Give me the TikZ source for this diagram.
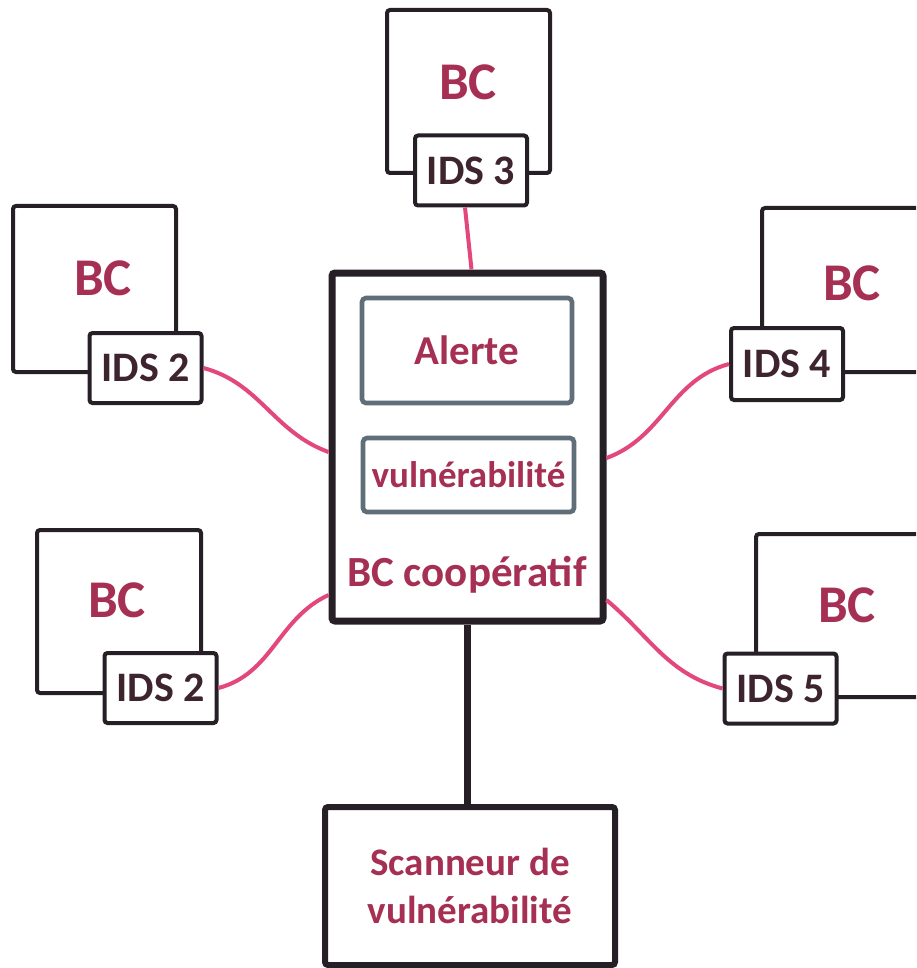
\documentclass[tikz,border=0pt]{standalone}
\usepackage{fontspec}
\setmainfont{Carlito}
\definecolor{ink}{RGB}{38,32,38}
\definecolor{bcred}{RGB}{165,48,84}
\definecolor{idsink}{RGB}{62,36,46}
\definecolor{wire}{RGB}{226,72,122}
\definecolor{slate}{RGB}{96,110,122}
\begin{document}
\begin{tikzpicture}[x=0.5pt,y=-0.5pt,
  box/.style={draw=ink, line width=2pt, rounded corners=1.5pt, fill=white, inner sep=0pt},
  bcbox/.style={box},
  idsbox/.style={box, text=idsink, font=\bfseries\fontsize{21}{25}\selectfont,
    minimum width=56pt, minimum height=35pt},
  bclabel/.style={text=bcred, font=\bfseries\fontsize{26.5}{30}\selectfont, inner sep=0pt},
  innerbox/.style={draw=slate, line width=2.3pt, rounded corners=2pt, fill=white, inner sep=0pt,
    text=bcred, font=\bfseries\fontsize{20.5}{24}\selectfont},
  link/.style={draw=wire, line width=2pt},
  trunk/.style={draw=ink, line width=3.5pt}]
\useasboundingbox (0,0) rectangle (916,968);
\clip (0,0) rectangle (916,968);

% central cooperative box and its two inner panels
\node[box, line width=3.5pt, minimum width=135.5pt, minimum height=174pt] (cen) at (467.5,447) {};
\node[innerbox, minimum width=105pt, minimum height=52.5pt] (alerte) at (467,350.5) {Alerte};
\node[innerbox, minimum width=105.5pt, minimum height=37pt,
  font=\bfseries\fontsize{18.5}{22}\selectfont] (vuln) at (468.5,475) {vulnérabilité};
\node[text=bcred, font=\bfseries\fontsize{21.5}{26}\selectfont, inner sep=0pt] (coop) at (467,575) {BC coopératif};

% scanner
\node[box, line width=3pt, minimum width=145pt, minimum height=79pt,
  text=bcred, font=\bfseries\fontsize{19.5}{24}\selectfont, align=center] (scan) at (470,886)
  {Scanneur de\\vulnérabilité};

% peripheral BC boxes
\node[bcbox, minimum width=81.5pt, minimum height=81.5pt] (bc3) at (468.5,91.5) {};
\node[bcbox, minimum width=81.5pt, minimum height=83pt] (bc2a) at (94.5,289) {};
\node[bcbox, minimum width=119pt, minimum height=82pt] (bc4) at (881,290) {};
\node[bcbox, minimum width=82pt, minimum height=81.5pt] (bc2b) at (119,611.5) {};
\node[bcbox, minimum width=122pt, minimum height=81.5pt] (bc5) at (878,615.5) {};

\node[bclabel] (bc3t) at (468,82) {BC};
\node[bclabel] (bc2at) at (103,278) {BC};
\node[bclabel] (bc4t) at (852,283) {BC};
\node[bclabel] (bc2bt) at (117,600) {BC};
\node[bclabel] (bc5t) at (847,605) {BC};

% IDS boxes
\node[idsbox] (ids3) at (471,170.5) {IDS 3};
\node[idsbox] (ids2a) at (145.5,368) {IDS 2};
\node[idsbox, minimum height=36pt] (ids4) at (787,364) {IDS 4};
\node[idsbox] (ids2b) at (160.5,688) {IDS 2};
\node[idsbox] (ids5) at (780.5,688.5) {IDS 5};

% links
\draw[link] ([xshift=-3pt]ids3.south) -- ([xshift=2pt]cen.north);
\draw[link] (ids2a.east) to[out=-15, in=160] ([yshift=-2.5pt]cen.west);
\draw[link] (ids4.west) to[out=195, in=20] ([yshift=-5.5pt]cen.east);
\draw[link] (ids2b.east) to[out=15, in=205] ([yshift=-74pt]cen.west);
\draw[link] ([yshift=-76.5pt]cen.east) to[out=-40, in=165] (ids5.west);
\draw[trunk] (cen.south) -- (cen.south |- scan.north);
\end{tikzpicture}
\end{document}
